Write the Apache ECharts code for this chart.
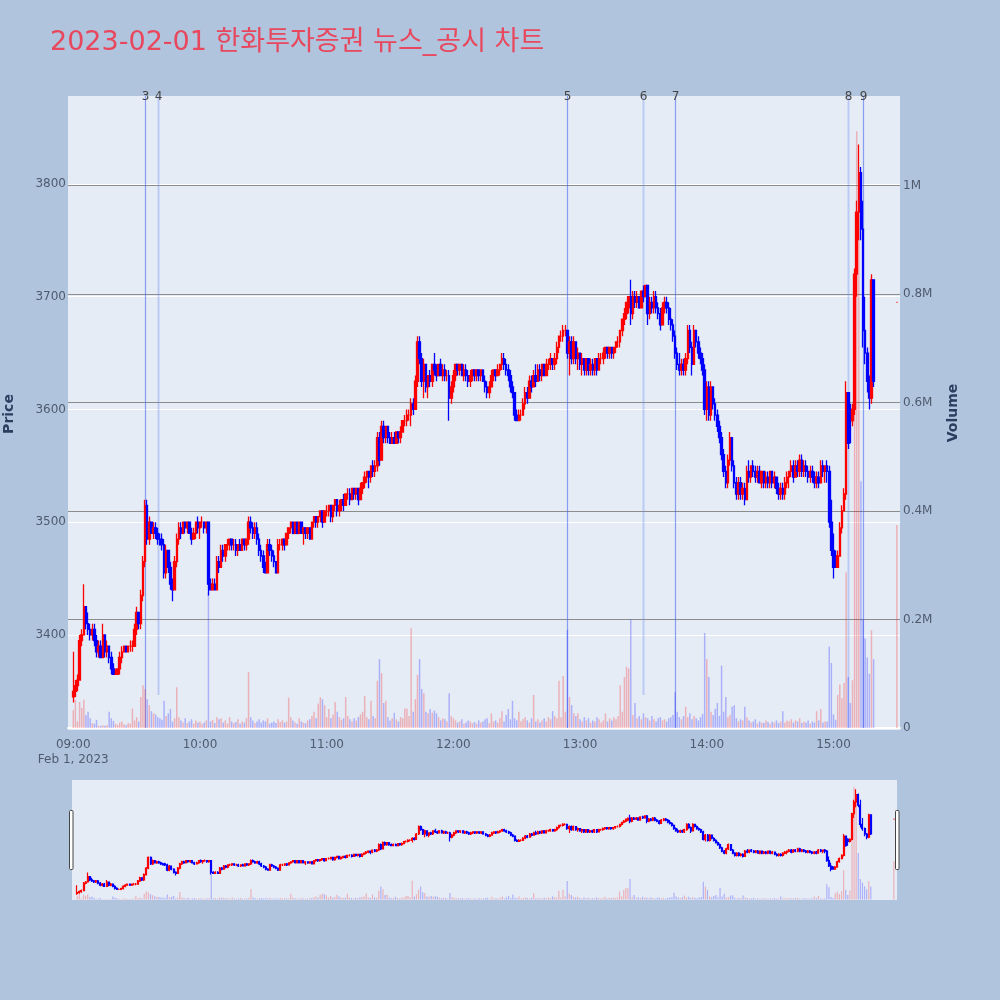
<!DOCTYPE html>
<html><head><meta charset="utf-8">
<script src="https://cdn.jsdelivr.net/npm/echarts@6/dist/echarts.min.js"></script>
<style>html,body{margin:0;padding:0;background:#B0C4DE}#c{width:1000px;height:1000px}</style>
</head><body><div id="c"></div>
<script>
const titleText = '2023-02-01 한화투자증권 뉴스_공시 차트';
const dateLabel = 'Feb 1, 2023';
const priceAxisName = 'Price';
const volumeAxisName = 'Volume';

const opens = [
3345,3350,3355,3360,3395,3400,3425,3410,3405,3400,3405,3395,3385,3390,3380,3400,3385,3390,3380,3370,
3365,3365,3370,3380,3385,3390,3385,3390,3390,3390,3405,3420,3410,3435,3465,3515,3485,3500,3490,3495,
3490,3485,3485,3480,3455,3475,3460,3445,3440,3465,3485,3495,3490,3500,3495,3500,3490,3485,3490,3500,
3495,3500,3500,3495,3500,3445,3440,3445,3440,3465,3460,3475,3470,3480,3480,3485,3480,3480,3475,3480,
3475,3485,3480,3485,3500,3495,3490,3495,3485,3475,3470,3460,3455,3480,3475,3470,3465,3455,3480,3480,
3485,3480,3490,3495,3500,3490,3500,3490,3500,3490,3495,3490,3495,3485,3500,3505,3500,3505,3510,3500,
3510,3510,3515,3505,3515,3520,3510,3515,3520,3515,3525,3525,3520,3530,3525,3530,3520,3530,3535,3540,
3545,3540,3550,3545,3550,3575,3555,3585,3575,3585,3575,3570,3575,3570,3580,3575,3580,3590,3590,3595,
3595,3605,3600,3625,3660,3645,3625,3640,3620,3630,3625,3640,3635,3630,3640,3630,3635,3630,3630,3610,
3620,3630,3640,3635,3640,3630,3635,3630,3625,3630,3635,3630,3635,3630,3635,3625,3620,3615,3620,3630,
3635,3630,3635,3640,3645,3640,3635,3630,3620,3615,3595,3590,3595,3595,3605,3615,3610,3625,3620,3630,
3625,3635,3630,3640,3630,3640,3640,3645,3640,3645,3655,3665,3665,3670,3670,3650,3660,3645,3660,3645,
3650,3640,3645,3635,3645,3635,3640,3635,3645,3635,3645,3645,3650,3655,3650,3655,3650,3655,3660,3660,
3670,3680,3685,3690,3700,3685,3700,3695,3700,3690,3705,3700,3710,3685,3695,3690,3700,3690,3685,3675,
3690,3695,3690,3680,3675,3665,3650,3640,3635,3640,3635,3645,3670,3655,3640,3670,3660,3650,3645,3635,
3600,3620,3595,3620,3605,3595,3585,3575,3560,3545,3535,3555,3575,3550,3535,3525,3535,3525,3530,3520,
3545,3540,3550,3545,3540,3545,3535,3545,3535,3540,3535,3545,3535,3540,3530,3525,3530,3525,3535,3540,
3545,3550,3540,3550,3545,3555,3545,3550,3545,3540,3545,3540,3535,3540,3535,3550,3545,3550,3545,3500,
3475,3470,3460,3470,3495,3510,3525,3615,3600,3590,3600,3720,3775,3810,3760,3670,3650,3625,3610,3715,
3695];
const highs = [
3385,3360,3365,3400,3405,3445,3425,3420,3410,3410,3410,3400,3395,3395,3410,3400,3395,3390,3385,3375,
3370,3370,3385,3390,3390,3390,3390,3395,3395,3410,3425,3420,3440,3470,3520,3520,3505,3500,3500,3500,
3495,3490,3490,3485,3480,3475,3465,3450,3470,3490,3500,3500,3500,3500,3500,3500,3495,3495,3500,3505,
3500,3505,3500,3500,3500,3450,3450,3450,3470,3470,3480,3480,3480,3485,3485,3485,3485,3485,3480,3485,
3485,3485,3485,3505,3505,3500,3500,3500,3490,3480,3475,3465,3485,3485,3480,3475,3465,3485,3485,3485,
3485,3490,3495,3500,3500,3500,3500,3500,3500,3495,3495,3495,3495,3500,3505,3505,3505,3510,3510,3510,
3515,3515,3515,3515,3520,3520,3520,3520,3525,3525,3530,3530,3530,3530,3530,3530,3535,3535,3545,3545,
3545,3550,3555,3555,3580,3580,3590,3590,3585,3585,3580,3580,3580,3580,3580,3585,3590,3595,3600,3600,
3610,3610,3630,3665,3665,3650,3645,3640,3630,3635,3640,3650,3640,3640,3645,3640,3640,3635,3635,3625,
3635,3640,3640,3640,3640,3640,3640,3635,3635,3635,3635,3635,3635,3635,3635,3630,3625,3625,3635,3635,
3635,3640,3640,3650,3650,3645,3640,3635,3625,3615,3600,3600,3600,3610,3620,3620,3630,3630,3635,3640,
3640,3640,3640,3640,3645,3645,3650,3645,3650,3660,3665,3670,3675,3675,3670,3665,3665,3665,3660,3655,
3650,3650,3645,3645,3645,3645,3645,3645,3645,3650,3650,3655,3655,3655,3655,3655,3655,3660,3665,3670,
3680,3690,3695,3700,3715,3705,3705,3705,3700,3705,3710,3710,3710,3700,3700,3705,3705,3695,3690,3695,
3700,3700,3695,3690,3680,3670,3655,3650,3645,3645,3650,3675,3675,3660,3675,3670,3665,3655,3650,3640,
3625,3625,3625,3620,3610,3600,3590,3580,3565,3550,3560,3580,3575,3555,3540,3540,3540,3535,3535,3550,
3555,3550,3555,3550,3550,3550,3545,3545,3545,3545,3545,3545,3545,3540,3535,3535,3535,3540,3545,3545,
3555,3555,3555,3555,3560,3560,3555,3555,3550,3550,3550,3545,3545,3545,3555,3555,3550,3555,3550,3520,
3490,3475,3475,3500,3515,3530,3625,3615,3605,3605,3725,3785,3835,3815,3785,3700,3655,3630,3720,3715,
3695];
const lows = [
3340,3345,3350,3360,3390,3400,3405,3400,3395,3395,3390,3380,3380,3380,3380,3380,3380,3375,3365,3365,
3365,3365,3365,3375,3385,3385,3385,3385,3385,3390,3400,3405,3405,3430,3460,3480,3480,3490,3485,3485,
3480,3480,3475,3450,3450,3455,3440,3430,3440,3460,3480,3485,3490,3490,3490,3490,3480,3485,3485,3490,
3485,3495,3490,3490,3435,3440,3440,3440,3440,3455,3460,3465,3465,3475,3475,3475,3475,3470,3470,3475,
3475,3475,3475,3480,3490,3485,3485,3480,3470,3465,3455,3455,3455,3470,3465,3460,3455,3455,3475,3475,
3475,3480,3485,3490,3490,3490,3490,3490,3490,3480,3485,3485,3485,3485,3495,3495,3495,3500,3495,3500,
3505,3505,3500,3500,3510,3505,3505,3510,3510,3515,3520,3515,3520,3520,3520,3515,3520,3525,3530,3535,
3530,3535,3540,3540,3545,3550,3555,3570,3570,3570,3570,3570,3570,3570,3570,3570,3580,3585,3585,3590,
3585,3595,3600,3620,3640,3620,3610,3615,3610,3620,3620,3630,3625,3630,3630,3625,3625,3625,3590,3605,
3615,3625,3630,3630,3630,3625,3625,3620,3620,3625,3625,3625,3625,3625,3625,3615,3610,3610,3620,3625,
3625,3630,3630,3635,3635,3630,3625,3615,3610,3590,3590,3590,3590,3595,3600,3605,3610,3615,3620,3620,
3625,3625,3625,3630,3630,3635,3635,3635,3635,3640,3650,3660,3660,3665,3645,3630,3640,3640,3640,3635,
3635,3630,3630,3630,3630,3630,3630,3630,3630,3635,3640,3640,3645,3645,3645,3645,3645,3650,3655,3655,
3665,3675,3680,3685,3675,3680,3690,3690,3690,3690,3695,3700,3675,3680,3685,3685,3685,3680,3670,3675,
3685,3685,3675,3670,3660,3645,3635,3630,3630,3630,3630,3640,3650,3630,3640,3655,3645,3640,3630,3595,
3590,3590,3590,3600,3590,3580,3570,3555,3540,3530,3530,3550,3545,3530,3520,3520,3520,3520,3515,3520,
3535,3535,3540,3535,3535,3535,3530,3530,3530,3530,3530,3530,3530,3525,3520,3520,3520,3520,3530,3530,
3540,3535,3540,3540,3540,3540,3540,3540,3535,3535,3535,3530,3530,3530,3535,3540,3535,3535,3495,3470,
3450,3460,3460,3470,3490,3510,3520,3565,3570,3585,3595,3700,3750,3750,3655,3640,3615,3600,3605,3620,
3695];
const closes = [
3350,3355,3360,3395,3400,3425,3410,3405,3400,3405,3395,3385,3390,3380,3400,3385,3390,3380,3370,3365,
3365,3370,3380,3385,3390,3385,3390,3390,3390,3405,3420,3410,3435,3465,3515,3485,3500,3490,3495,3490,
3485,3480,3480,3455,3475,3460,3445,3440,3465,3485,3495,3490,3500,3495,3500,3490,3485,3490,3500,3495,
3500,3500,3495,3500,3445,3440,3445,3440,3465,3460,3475,3470,3480,3480,3485,3480,3480,3475,3480,3475,
3485,3480,3485,3500,3495,3490,3495,3485,3475,3470,3460,3455,3480,3475,3470,3465,3455,3480,3480,3485,
3480,3490,3495,3500,3490,3500,3490,3500,3490,3495,3490,3495,3485,3500,3505,3500,3505,3510,3500,3510,
3510,3515,3505,3515,3520,3510,3515,3520,3515,3525,3525,3520,3530,3525,3530,3520,3530,3535,3540,3545,
3540,3550,3545,3550,3575,3555,3585,3575,3585,3575,3570,3575,3570,3580,3575,3580,3590,3590,3595,3595,
3605,3600,3625,3660,3645,3625,3640,3620,3630,3625,3640,3635,3630,3640,3630,3635,3630,3630,3610,3620,
3630,3640,3635,3640,3630,3635,3630,3625,3630,3635,3630,3635,3630,3635,3625,3620,3615,3620,3630,3635,
3630,3635,3640,3645,3640,3635,3630,3620,3615,3595,3590,3595,3595,3605,3615,3610,3625,3620,3630,3625,
3635,3630,3640,3630,3640,3640,3645,3640,3645,3655,3665,3665,3670,3670,3650,3660,3645,3660,3645,3650,
3640,3645,3635,3645,3635,3640,3635,3645,3635,3645,3645,3650,3655,3650,3655,3650,3655,3660,3660,3670,
3680,3685,3695,3700,3685,3700,3695,3700,3690,3705,3700,3710,3685,3695,3690,3700,3690,3685,3675,3690,
3695,3690,3680,3675,3665,3650,3640,3635,3640,3635,3645,3670,3655,3640,3670,3660,3650,3645,3635,3600,
3620,3595,3620,3605,3595,3585,3575,3560,3545,3535,3555,3575,3550,3535,3525,3535,3525,3530,3520,3545,
3540,3550,3545,3540,3545,3535,3545,3535,3540,3535,3545,3535,3540,3530,3525,3530,3525,3535,3540,3545,
3550,3540,3550,3545,3555,3545,3550,3545,3540,3545,3540,3535,3540,3535,3550,3545,3550,3545,3500,3475,
3460,3460,3470,3495,3510,3525,3615,3570,3590,3600,3720,3775,3810,3760,3670,3650,3625,3610,3715,3625,
3695];
const volumeThousands = [
33,52,12,48,37,52,24,30,18,9,8,15,4,4,5,4,5,30,18,13,
8,6,10,12,7,5,9,8,36,14,20,12,57,79,72,53,42,31,27,25,
20,18,15,50,22,27,35,12,18,75,20,14,10,18,9,12,16,8,14,10,
12,8,10,14,250,12,15,9,20,16,18,10,14,8,20,12,9,11,16,8,
12,10,18,103,20,14,9,12,16,10,14,12,18,8,10,12,9,16,11,14,
10,12,56,20,14,10,8,18,12,10,9,14,16,22,30,18,45,57,53,42,
20,35,18,25,48,30,20,15,18,57,22,16,12,18,14,20,25,30,59,20,
16,50,22,18,87,127,101,46,50,20,14,18,28,16,12,20,18,36,36,22,
184,30,53,98,127,72,64,30,27,35,28,32,27,20,14,18,16,12,64,22,
18,14,10,12,16,8,10,14,12,9,11,8,14,10,12,16,18,9,27,12,
14,10,18,31,12,24,35,16,50,18,14,30,12,16,20,14,10,18,61,12,
16,10,14,18,12,20,16,31,22,18,87,20,96,30,181,57,42,27,22,27,
16,12,20,14,18,10,14,12,20,16,10,14,27,12,18,14,20,16,22,79,
30,94,113,110,200,24,46,18,22,16,27,20,18,14,22,16,12,18,20,14,
16,12,18,20,24,66,30,20,16,22,39,20,27,16,22,18,14,20,26,175,
127,94,30,24,35,46,22,115,30,57,20,24,39,42,18,12,16,14,39,20,
14,10,12,16,8,12,10,9,14,11,8,12,10,14,9,12,31,10,14,12,
16,10,14,12,18,9,12,10,14,8,12,10,31,14,35,10,12,12,150,120,
25,15,61,80,55,83,287,94,46,88,783,1100,950,455,200,165,130,100,180,127,
374];

const newsTimes = ['09:34','09:40','12:54','13:30','13:45','15:07','15:14'];
const newsLabels = ['3','4','5','6','7','8','9'];
const newsKinds = ['news','disc','news','disc','news','disc2','news'];

const priceTickValues = [3400, 3500, 3600, 3700, 3800];

// time helpers
const pad = n => (n < 10 ? '0' : '') + n;
const hhmm = t => pad(Math.floor(t / 60)) + ':' + pad(t % 60);
// axis categories: every minute of the visible range
const axisTimes = [];
for (let t = 8 * 60 + 58; t <= 15 * 60 + 31; t++) axisTimes.push(hhmm(t));
// candle times: continuous session + closing auction
const candleTimes = [];
for (let t = 9 * 60; t < 15 * 60 + 20; t++) candleTimes.push(hhmm(t));
candleTimes.push('15:30');

const UP = '#FF0000', DOWN = '#0000FF';
const UPV = 'rgba(255,0,0,0.25)', DOWNV = 'rgba(0,0,255,0.25)';

const candleData = candleTimes.map((t, i) => {
  const col = closes[i] >= opens[i] ? UP : DOWN;
  return { value: [t, opens[i], closes[i], lows[i], highs[i]],
    itemStyle: { color: col, color0: col, borderColor: col, borderColor0: col } };
});
const volumeData = candleTimes.map((t, i) => ({
  value: [t, volumeThousands[i] * 1000],
  itemStyle: { color: closes[i] >= opens[i] ? UPV : DOWNV }
}));

const PMIN = 3315.7, PMAX = 3878, VMIN = -3700, VMAX = 1165000;
const FONT = "'DejaVu Sans', 'Noto Sans CJK KR', sans-serif";
const TICK = '#4f5b6d';

const chart = echarts.init(document.getElementById('c'), null, { renderer: 'canvas' });
chart.setOption({
  animation: false,
  backgroundColor: '#B0C4DE',
  textStyle: { fontFamily: FONT },
  title: {
    text: titleText, left: 50, top: 29, padding: 0,
    textStyle: { color: '#E8485E', fontSize: 27, fontWeight: 'normal', fontFamily: FONT }
  },
  grid: [
    { left: 68, top: 96, width: 832, height: 634, show: true, backgroundColor: '#E5ECF6', borderWidth: 0 },
    { left: 72, top: 780, width: 825, height: 120, show: true, backgroundColor: '#E5ECF6', borderWidth: 0 }
  ],
  xAxis: [
    { type: 'category', gridIndex: 0, data: axisTimes, boundaryGap: true,
      axisLine: { show: true, lineStyle: { color: '#ffffff', width: 2 } },
      axisTick: { show: false }, splitLine: { show: false },
      axisLabel: { color: TICK, fontSize: 12, margin: 7, lineHeight: 15, fontFamily: FONT,
        interval: (idx, val) => val.slice(3) === '00',
        formatter: val => (val === '09:00' ? val + '\n' + dateLabel : val) } },
    { type: 'category', gridIndex: 1, data: axisTimes, boundaryGap: true, show: false }
  ],
  yAxis: [
    { type: 'value', gridIndex: 0, position: 'left', min: PMIN, max: PMAX, scale: true,
      axisLine: { show: false }, axisTick: { show: false },
      splitLine: { show: true, showMinLine: false, showMaxLine: false, lineStyle: { color: '#ffffff', width: 1 } },
      axisLabel: { color: TICK, fontSize: 12, margin: 2, fontFamily: FONT, showMinLabel: false, showMaxLabel: false,
        formatter: v => (priceTickValues.indexOf(Math.round(v)) >= 0 ? String(Math.round(v)) : '') } },
    { type: 'value', gridIndex: 0, position: 'right', min: VMIN, max: VMAX,
      axisLine: { show: false }, axisTick: { show: false },
      splitLine: { show: true, showMinLine: false, showMaxLine: false, lineStyle: { color: '#8c8c8c', width: 1 } },
      axisLabel: { color: TICK, fontSize: 12, margin: 3, fontFamily: FONT, showMinLabel: false, showMaxLabel: false,
        formatter: v => (v === 0 ? '0' : (v / 1e6) + 'M') } },
    { type: 'value', gridIndex: 1, min: PMIN, max: PMAX, show: false, splitLine: { show: false } },
    { type: 'value', gridIndex: 1, min: VMIN, max: VMAX, show: false, splitLine: { show: false } }
  ],
  graphic: [
    { type: 'text', x: 9.5, y: 414, rotation: Math.PI / 2,
      style: { text: priceAxisName, font: "bold 14px 'DejaVu Sans'", fill: '#2a3f5f', align: 'center', verticalAlign: 'middle' } },
    { type: 'text', x: 953, y: 413, rotation: Math.PI / 2,
      style: { text: volumeAxisName, font: "bold 14px 'DejaVu Sans'", fill: '#2a3f5f', align: 'center', verticalAlign: 'middle' } },
    { type: 'rect', shape: { x: 69.5, y: 810.5, width: 3.5, height: 59, r: 1 },
      style: { fill: '#ffffff', stroke: '#444444', lineWidth: 1 }, z: 100 },
    { type: 'rect', shape: { x: 895.5, y: 810.5, width: 3.5, height: 59, r: 1 },
      style: { fill: '#ffffff', stroke: '#444444', lineWidth: 1 }, z: 100 }
  ],
  series: [
    { type: 'custom', xAxisIndex: 0, yAxisIndex: 0, z: 1, clip: false, silent: true,
      data: newsTimes.map(t => [t, PMIN]),
      encode: { x: 0, y: 1 },
      renderItem: (params, api) => {
        const i = params.dataIndex;
        const cs = params.coordSys;
        const x = Math.round(api.coord([api.value(0), PMIN])[0]) + 0.5;
        const kind = newsKinds[i];
        const top = cs.y;
        const bottom = kind === 'disc' ? cs.y + 599 : cs.y + cs.height - 2;
        const light = kind !== 'news';
        return { type: 'group', children: [
          { type: 'line', shape: { x1: x, y1: top, x2: x, y2: bottom },
            style: { stroke: light ? 'rgba(110,140,240,0.35)' : 'rgba(70,105,240,0.6)', lineWidth: light ? 2 : 1.2 } },
          { type: 'text', x: x, y: top + 0.5,
            style: { text: newsLabels[i], fill: '#444', font: "12px 'DejaVu Sans'", align: 'center', verticalAlign: 'middle' } }
        ] };
      } },
    { type: 'bar', name: 'Volume', xAxisIndex: 0, yAxisIndex: 1, z: 2, barWidth: 1.5,
      data: volumeData, encode: { x: 0, y: 1 } },
    { type: 'candlestick', name: 'Price', xAxisIndex: 0, yAxisIndex: 0, z: 3, barWidth: 2,
      data: candleData, encode: { x: 0, y: [1, 2, 3, 4] },
      itemStyle: { borderWidth: 1.3 } },
    { type: 'bar', xAxisIndex: 1, yAxisIndex: 3, z: 2, barWidth: 1.2,
      data: volumeData, encode: { x: 0, y: 1 } },
    { type: 'candlestick', xAxisIndex: 1, yAxisIndex: 2, z: 3, barWidth: 1.5,
      data: candleData, encode: { x: 0, y: [1, 2, 3, 4] },
      itemStyle: { borderWidth: 1.2 } }
  ]
});
</script>
</body></html>
